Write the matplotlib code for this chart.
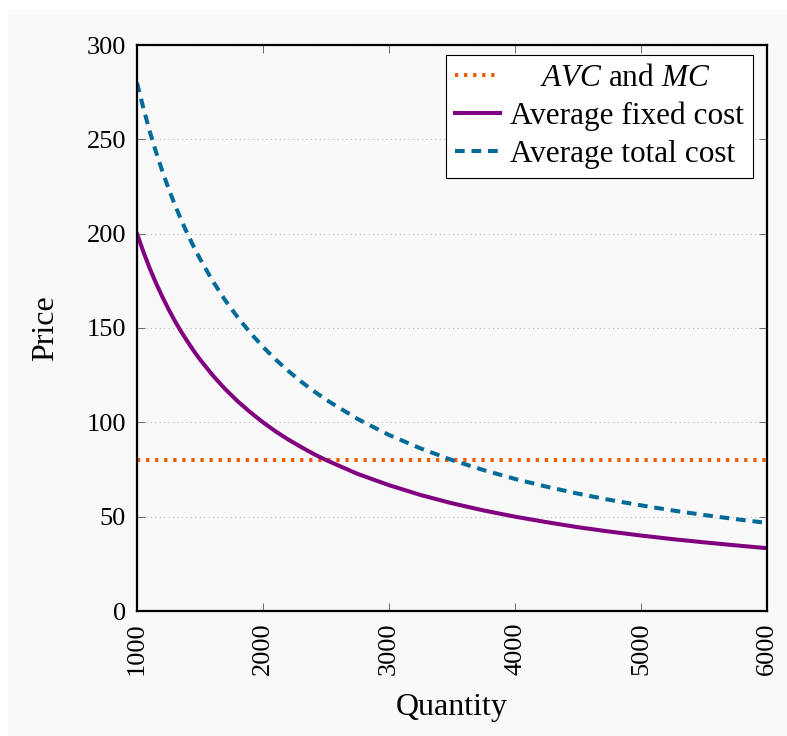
import numpy as np
import matplotlib.pyplot as plt
from matplotlib.patches import Rectangle

# Data
quantity = [1000, 1050, 1100, 1150, 1200, 1250, 1300, 1350, 1400, 1450, 1500,
            1600, 1700, 1800, 1900, 2000, 2100, 2200, 2300, 2400, 2500,
            2750, 3000, 3250, 3500, 3750, 4000, 4250, 4500,
            4750, 5000, 5250, 5500, 5750, 6000]
afc = [200, 190.5, 181.8, 173.9, 166.7, 160, 153.8, 148.1, 142.9, 137.9, 133.3,
       125, 117.6, 111.1, 105.3, 100, 95.2, 90.9, 87, 83.3, 80,
       72.7, 66.7, 61.5, 57.1, 53.3, 50, 47.1, 44.4,
       42.1, 40, 38.1, 36.4, 34.8, 33.3]
atc = [280, 266.7, 254.5, 243.5, 233.3, 224, 215.4, 207.4, 200, 193.1, 186.7,
       175, 164.7, 155.6, 147.4, 140, 133.3, 127.3, 121.7, 116.7, 112,
       101.8, 93.3, 86.2, 80, 74.7, 70, 65.9, 62.2,
       58.9, 56, 53.3, 50.9, 48.7, 46.7]
avc_mc = [80] * len(quantity)

plt.rcParams['font.family'] = ['Liberation Serif', 'DejaVu Serif']
plt.rcParams['mathtext.fontset'] = 'custom'
plt.rcParams['mathtext.it'] = 'Liberation Serif:italic'
plt.rcParams['mathtext.rm'] = 'Liberation Serif'

fig = plt.figure(figsize=(7.87, 7.36), dpi=100, facecolor='white')
fig.patches.append(Rectangle((8 / 787, 0), 1, (736 - 10) / 736, transform=fig.transFigure,
                             facecolor='#f9f9f9', edgecolor='none', zorder=-10))
ax = fig.add_axes([137 / 787, 1 - 611 / 736, 630 / 787, 566 / 736])
ax.set_facecolor('#f9f9f9')

ax.plot(quantity, avc_mc, color='#ee5a0a', linestyle=(0, (0.8, 1.45)), linewidth=2.9,
        label='    $AVC$ and $MC$')
ax.plot(quantity, afc, color='#800080', linewidth=2.9, label='Average fixed cost')
ax.plot(quantity, atc, color='#006b99', linestyle=(0, (2.4, 1.7)), linewidth=2.9,
        label='Average total cost')

ax.set_xlim(1000, 6000)
ax.set_ylim(0, 300)
ax.set_xticks([1000, 2000, 3000, 4000, 5000, 6000])
ax.set_yticks([0, 50, 100, 150, 200, 250, 300])
ax.grid(axis='y', color='#bbbbbb', linestyle=(0, (1, 3)), linewidth=0.8)
ax.tick_params(direction='in', top=True, right=True, length=6, width=0.6,
               labelsize=19, color='#555555', pad=8)
plt.setp(ax.get_xticklabels(), rotation=90)
for s in ax.spines.values():
    s.set_linewidth(1.6)

ax.set_xlabel('Quantity', fontsize=23, labelpad=13)
ax.set_ylabel('Price', fontsize=23, labelpad=19)

leg = ax.legend(loc='upper right', bbox_to_anchor=(753 / 787, 1 - 55 / 736),
                bbox_transform=fig.transFigure, fontsize=22.5, frameon=True,
                fancybox=False, edgecolor='black', framealpha=1, facecolor='white',
                handlelength=1.45, borderpad=0.3, labelspacing=0.27,
                handletextpad=0.3, borderaxespad=0)
leg.get_frame().set_linewidth(0.8)

fig.savefig('out.png', dpi=100, facecolor=fig.get_facecolor())
